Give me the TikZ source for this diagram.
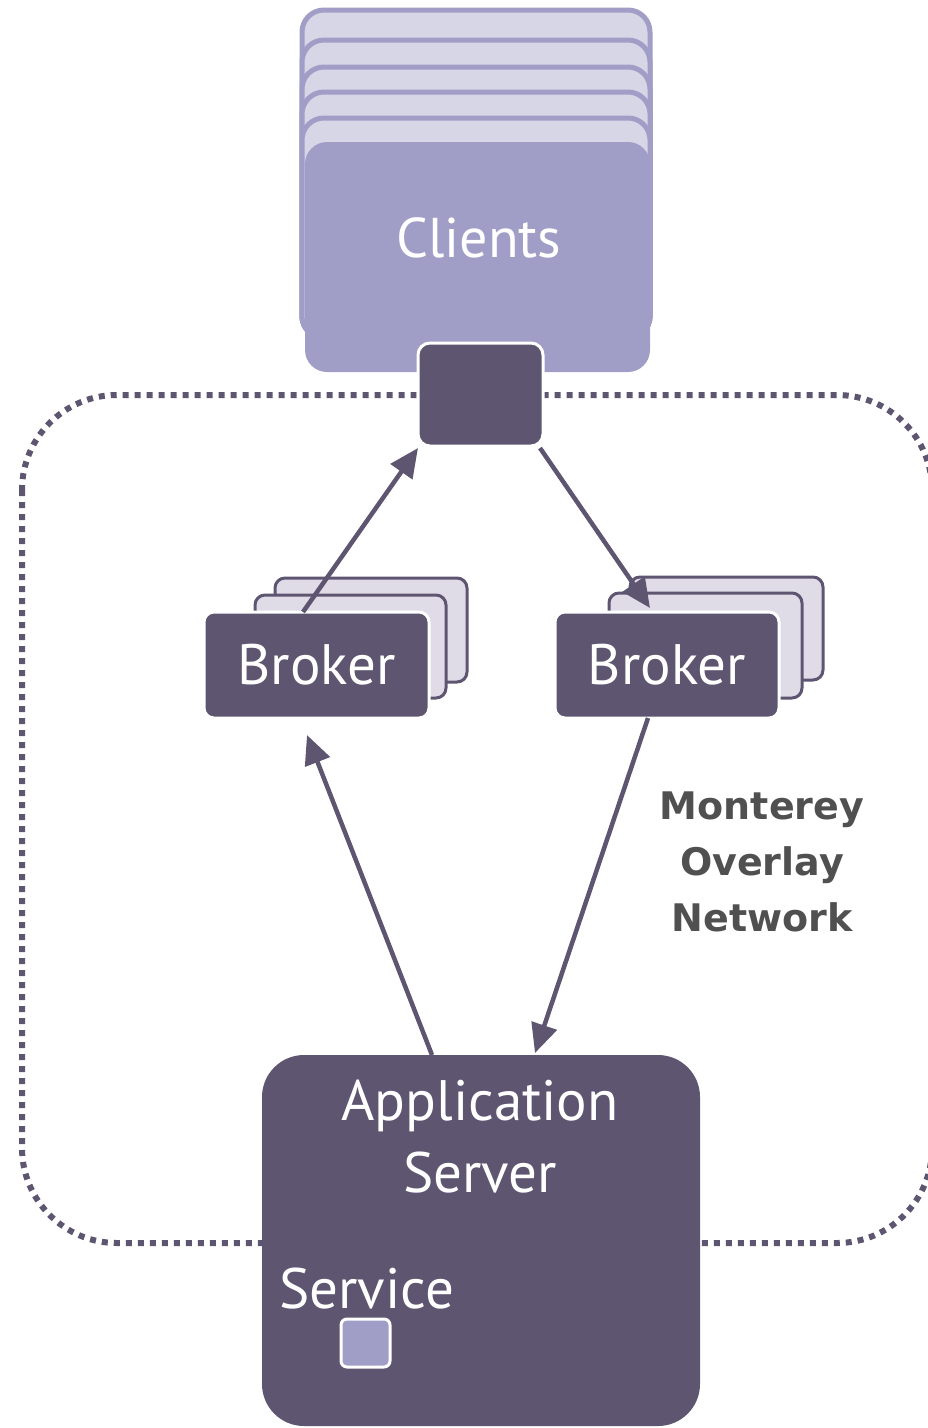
\documentclass[tikz,border=0pt]{standalone}
\usepackage{fontspec}
\setmainfont{PT Sans}
\newfontfamily\labelfont{DejaVu Sans}
\usetikzlibrary{arrows.meta,calc}
\definecolor{plum}{RGB}{94,85,113}
\definecolor{lavender}{RGB}{160,158,198}
\definecolor{lavlight}{RGB}{214,214,230}
\definecolor{cardback}{RGB}{223,220,232}
\definecolor{labelgray}{RGB}{80,80,80}
\tikzset{
  box/.style={rectangle, inner sep=0pt, outer sep=0pt, anchor=north west},
  clientcard/.style={box, draw=lavender, fill=lavlight, line width=5pt,
    rounded corners=22pt, minimum width=348pt},
  clientfront/.style={box, fill=lavender, rounded corners=22pt},
  gatebox/.style={box, fill=plum, draw=white, line width=3pt, rounded corners=12pt},
  brokerback/.style={box, fill=cardback, draw=plum, line width=3pt, rounded corners=10pt},
  brokerfront/.style={box, fill=plum, draw=white, line width=3pt, rounded corners=10pt,
    text=white, font=\fontsize{57}{60}\selectfont},
  serverbox/.style={box, fill=plum, rounded corners=42pt},
  servicebox/.style={box, fill=lavender, draw=white, line width=3pt, rounded corners=6pt},
  whitetext/.style={inner sep=0pt, text=white, font=\fontsize{57}{72}\selectfont, align=center},
  netlabel/.style={inner sep=0pt, text=labelgray, align=center,
    font=\labelfont\bfseries\fontsize{38}{56}\selectfont},
  conn/.style={draw=plum, line width=4.5pt, -{Triangle[length=29pt,width=26pt]}},
  framestyle/.style={draw=plum, line width=6pt, dash pattern=on 6pt off 6pt, rounded corners=95pt}
}
\begin{document}
\begin{tikzpicture}[x=1pt,y=-1pt]
\useasboundingbox (0,0) rectangle (927,1428);

% overlay network boundary
\draw[framestyle] (22,395) rectangle (932,1243);

% stack of client cards
\foreach \t/\h [count=\i] in {10/328,40/298,67/271,92/246,118/220}
  \node[clientcard, minimum height=\h pt] (client\i) at (302,\t) {};
\node[clientfront, minimum width=345pt, minimum height=230pt] (clients) at (305,142) {};
\node[whitetext, font=\fontsize{56}{72}\selectfont] (clientsText) at (479,238) {Clients};

% access point below the clients
\node[gatebox, minimum width=125pt, minimum height=103pt] (gate) at (418,343) {};

% brokers, replicas behind
\node[brokerback, minimum width=192pt, minimum height=104pt] (lbC) at (275,578) {};
\node[brokerback, minimum width=191pt, minimum height=103pt] (lbB) at (255,595) {};
\node[brokerback, minimum width=193pt, minimum height=103pt] (rbC) at (630,577) {};
\node[brokerback, minimum width=193pt, minimum height=105pt] (rbB) at (609,593) {};
\node[brokerfront, minimum width=225pt, minimum height=106pt] (lb) at (204,612) {Broker};
\node[brokerfront, minimum width=224pt, minimum height=106pt] (rb) at (555,612) {Broker};

% application server
\node[serverbox, minimum width=438pt, minimum height=371pt] (app) at (262,1055) {};
\node[whitetext] (appText) at (480,1137) {Application\\Server};
\node[whitetext, anchor=base west] (serviceText) at (279,1308) {Service};
\node[servicebox, minimum width=49pt, minimum height=48pt] (service) at (341,1319) {};

% message flow
\draw[conn] ($(lb.north west)+(99,0)$) -- ($(gate.south west)+(0,2)$);
\draw[conn] ($(gate.south east)+(-3,2)$) -- ($(rb.north west)+(95,-4)$);
\draw[conn] ($(app.north west)+(170,0)$) -- ($(lb.south west)+(103,17)$);
\draw[conn] ($(rb.south west)+(93,0)$) -- ($(app.north west)+(273,-2)$);

% network label
\node[netlabel] (netText) at (762,862) {Monterey\\Overlay\\Network};
\end{tikzpicture}
\end{document}
